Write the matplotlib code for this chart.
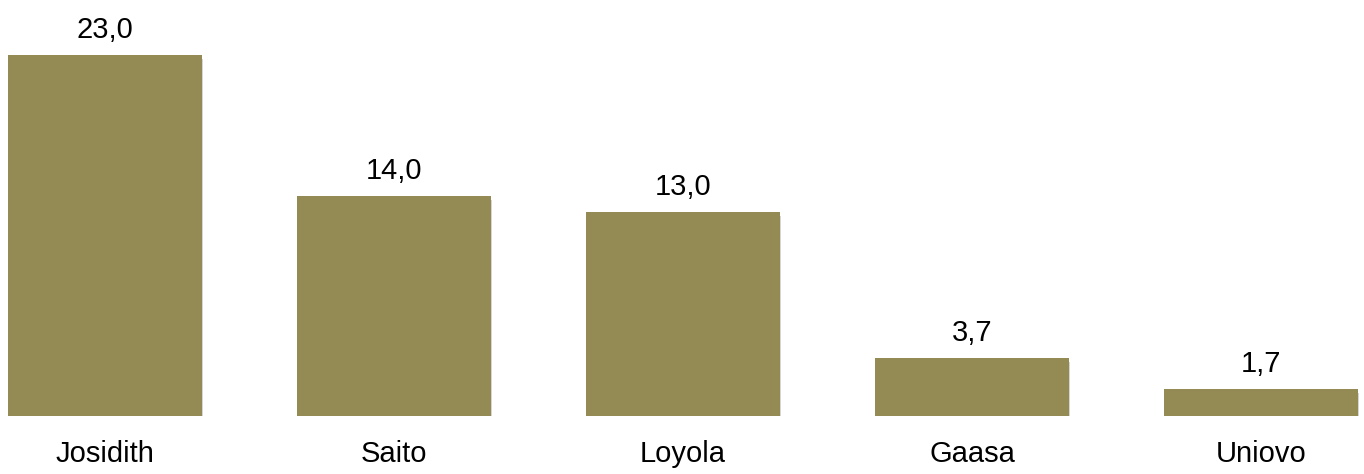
import matplotlib.pyplot as plt
import matplotlib.patheffects as pe

plt.rcParams['font.family'] = ['Liberation Sans', 'DejaVu Sans']

names = ['Josidith', 'Saito', 'Loyola', 'Gaasa', 'Uniovo']
values = [23.0, 14.0, 13.0, 3.7, 1.7]

fig = plt.figure(figsize=(13.64, 4.74), dpi=100)
# axes spans pixel rows 0..416 (baseline), full width
ax = fig.add_axes([0, 58 / 474, 1, 416 / 474])

x = range(len(names))
bars = ax.bar(x, values, width=0.67, color='#948A54', zorder=2)
for b in bars:
    b.set_path_effects([pe.SimplePatchShadow(offset=(1, -3), shadow_rgbFace='#888888', alpha=0.35),
                        pe.Normal()])

for i, v in enumerate(values):
    ax.annotate(f'{v:.1f}'.replace('.', ','), (i, v), xytext=(0, 8), textcoords='offset points',
                ha='center', va='bottom', fontsize=21)

ax.set_xlim(-105 / 289, (1364 - 105) / 289)
ax.set_ylim(0, 416 / 15.7)
ax.set_xticks(list(x))
ax.set_xticklabels(names, fontsize=21)
ax.tick_params(axis='x', length=0, pad=17)
ax.set_yticks([])
for s in ax.spines.values():
    s.set_visible(False)

fig.savefig('out.png', dpi=100)
